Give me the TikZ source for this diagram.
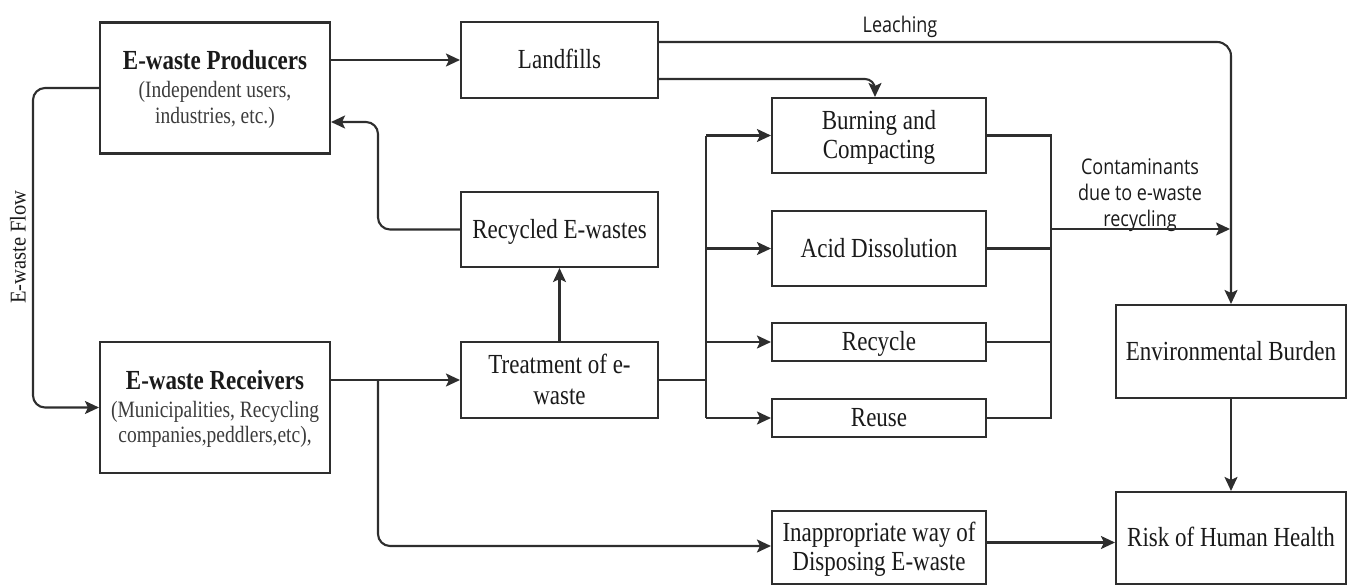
\documentclass[tikz,border=0pt]{standalone}
\usepackage{graphicx}
\usepackage{fontspec}
\setmainfont{Liberation Serif}
\newfontfamily\labfont{Open Sans}
\usetikzlibrary{arrows.meta}
\definecolor{ln}{HTML}{2E2E2E}
\definecolor{tx}{HTML}{1A1A1A}
\definecolor{sub}{HTML}{3C3C3C}
\newcommand{\vs}[1]{\raisebox{-3pt}[\height][\depth]{\scalebox{1}[1.2]{\begin{tabular}{@{}c@{}}#1\end{tabular}}}}
\newcommand{\subl}[1]{{\color{sub}\fontsize{19.5}{24}\selectfont #1}}
\tikzset{
  box/.style={draw=ln, line width=2.1pt, fill=white, inner sep=1pt, align=center,
    text=tx, font=\fontsize{23}{24}\selectfont},
  conn/.style={draw=ln, line width=2.1pt},
  arr/.style={conn, -{Stealth[length=14pt,width=13pt,inset=3pt]}},
  lab/.style={text=tx, font=\labfont\fontsize{18}{21.7}\selectfont, align=center, inner sep=0pt},
}
\begin{document}
\begin{tikzpicture}[x=1pt,y=-1pt]
\useasboundingbox (0,0) rectangle (1348,586);
% nodes
\node[box, minimum width=230pt, minimum height=131pt] (prod) at (215,88)
  {\vs{\textbf{E-waste Producers}\\[-0.5pt]\subl{(Independent users,}\\[-2.5pt]\subl{industries, etc.)}}};
\node[box, minimum width=230pt, minimum height=131pt] (rec) at (215,407.5)
  {\vs{\textbf{E-waste Receivers}\\[-1pt]\subl{(Municipalities, Recycling}\\[-2.5pt]\subl{companies,peddlers,etc),}}};
\node[box, minimum width=197pt, minimum height=76pt] (land) at (559.5,60) {\vs{Landfills}};
\node[box, minimum width=197pt, minimum height=75pt] (recy) at (559.5,229.5) {\vs{Recycled E-wastes}};
\node[box, minimum width=197pt, minimum height=76pt] (treat) at (559.5,380) {\vs{Treatment of e-\\[1.5pt]waste}};
\node[box, minimum width=214pt, minimum height=75pt] (burn) at (879,135.5) {\vs{Burning and\\Compacting}};
\node[box, minimum width=214pt, minimum height=75pt] (acid) at (879,248.5) {\vs{Acid Dissolution}};
\node[box, minimum width=214pt, minimum height=38pt] (recyc) at (879,342) {\vs{Recycle}};
\node[box, minimum width=214pt, minimum height=38pt] (reuse) at (879,418) {\vs{Reuse}};
\node[box, minimum width=214pt, minimum height=73pt] (inap) at (879,547.5) {\vs{Inappropriate way of\\Disposing E-waste}};
\node[box, minimum width=230pt, minimum height=93pt] (env) at (1231,351.5) {\vs{Environmental Burden}};
\node[box, minimum width=230pt, minimum height=92pt] (risk) at (1231,538) {\vs{Risk of Human Health}};
% labels
\node[lab] (leach) at (900,24) {\vs{Leaching}};
\node[lab] (cont) at (1140,192) {\vs{Contaminants\\due to e-waste\\recycling}};
\node[text=tx, rotate=90, font=\fontsize{20.5}{24}\selectfont, inner sep=0pt] (flow) at (18,247) {\scalebox{1}[1.1]{E-waste Flow}};
% junction coordinates
\coordinate (jl) at (33,88);
\coordinate (jr) at (378,380);
\coordinate (jt) at (706,380);
\coordinate (jc) at (1051,229);
\coordinate (jce) at (1230,229);
% connectors
\draw[arr] (prod.east |- land.west) -- (land.west);
\draw[arr, rounded corners=12pt] (prod.west) -- (jl) |- (rec.west);
\draw[arr, rounded corners=12pt] (recy.west) -| (378,160) |- ([yshift=-34pt]prod.east);
\draw[arr] (treat.north) -- (recy.south);
\draw[arr] (rec.east |- treat.west) -- (treat.west);
\draw[arr, rounded corners=12pt] (jr) |- ([yshift=1.5pt]inap.west);
\draw[conn] (treat.east) -- (jt);
\draw[conn] (jt |- burn.west) -- (jt |- reuse.west);
\draw[arr] (jt |- burn.west) -- (burn.west);
\draw[arr] (jt |- acid.west) -- (acid.west);
\draw[arr] (jt |- recyc.west) -- (recyc.west);
\draw[arr] (jt |- reuse.west) -- (reuse.west);
\draw[arr, rounded corners=14pt] ([yshift=18pt]land.east) -| (env.north);
\draw[arr, rounded corners=10pt] ([yshift=-19pt]land.east) -| ([xshift=-4pt]burn.north);
\draw[conn] (burn.east) -| (jc |- reuse.east) -- (reuse.east);
\draw[conn] (acid.east) -- (jc |- acid.east);
\draw[conn] (recyc.east) -- (jc |- recyc.east);
\draw[arr] (jc) -- (jce);
\draw[arr] (env.south) -- (risk.north);
\draw[arr] ([yshift=5pt]inap.east) -- ([yshift=5pt]inap.east -| risk.west);
\end{tikzpicture}
\end{document}
